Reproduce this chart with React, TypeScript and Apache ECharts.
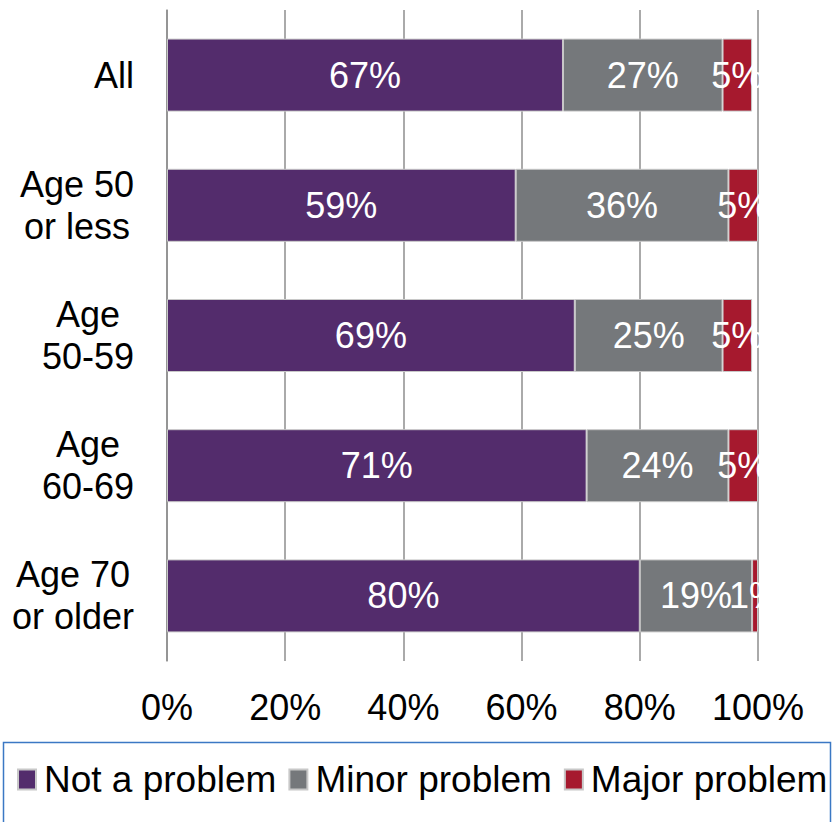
import React, { useEffect, useRef } from "react";
import * as echarts from "echarts";

const categories = ["All", "Age 50\nor less", "Age\n50-59", "Age\n60-69", "Age 70\nor older"];
const notAProblem = [67, 59, 69, 71, 80];
const minorProblem = [27, 36, 25, 24, 19];
const majorProblem = [5, 5, 5, 5, 1];
const xTicks = [0, 20, 40, 60, 80, 100];
const seriesNames = ["Not a problem", "Minor problem", "Major problem"];
const colors = ["#532C6C", "#75787B", "#A6192E"];

export default function App() {
  const ref = useRef<HTMLDivElement>(null);
  useEffect(() => {
    if (!ref.current) return;
    const chart = echarts.init(ref.current, null, { renderer: "svg" });
    const font = "Liberation Sans, Arial, sans-serif";
    const data = [notAProblem, minorProblem, majorProblem];
    chart.setOption({
      animation: false,
      textStyle: { fontFamily: font },
      grid: { left: 167, right: 74, top: 10, bottom: 161, containLabel: false },
      xAxis: {
        type: "value",
        min: xTicks[0],
        max: xTicks[xTicks.length - 1],
        interval: 20,
        axisLine: { show: false },
        axisTick: { show: false },
        splitLine: { show: true, lineStyle: { color: "#8E8E8E", width: 1.5 } },
        axisLabel: {
          formatter: (v: number) => v + "%",
          color: "#000",
          fontSize: 36,
          fontFamily: font,
          margin: 28,
        },
      },
      yAxis: {
        type: "category",
        data: categories,
        inverse: true,
        axisLine: { show: true, lineStyle: { color: "#8E8E8E", width: 1.5 } },
        axisTick: { show: false },
        axisLabel: {
          color: "#000",
          fontSize: 36,
          fontFamily: font,
          margin: 33,
          align: "right",
          lineHeight: 42,
          formatter: (v: string) =>
            v
              .split("\n")
              .map((l) => "{a|" + l + "}")
              .join("\n"),
          rich: {
            a: { align: "center", fontSize: 36, lineHeight: 42, color: "#000", fontFamily: font },
          },
        },
      },
      legend: {
        data: seriesNames,
        left: 17,
        top: 761,
        padding: 0,
        itemWidth: 18,
        itemHeight: 20,
        itemGap: 12,
        icon: "rect",
        textStyle: { fontSize: 37, color: "#000", fontFamily: font, padding: [0, 0, 0, 3] },
      },
      graphic: [
        {
          type: "rect",
          shape: { x: 3.5, y: 742.5, width: 827, height: 100 },
          style: { fill: "none", stroke: "#3B78C4", lineWidth: 1.5 },
          z: -1,
        },
      ],
      series: seriesNames.map((name, i) => ({
        name,
        type: "bar",
        stack: "total",
        data: data[i],
        barWidth: 73,
        itemStyle: { color: colors[i], borderColor: "#C8C8C8", borderWidth: 1 },
        label: {
          show: true,
          position: "inside",
          formatter: "{c}%",
          color: "#fff",
          fontSize: 36,
          fontFamily: font,
        },
      })),
    });
    return () => chart.dispose();
  }, []);
  return (
    <div
      ref={ref}
      style={{ position: "fixed", left: 0, top: 0, width: 832, height: 822, background: "#fff" }}
    />
  );
}
